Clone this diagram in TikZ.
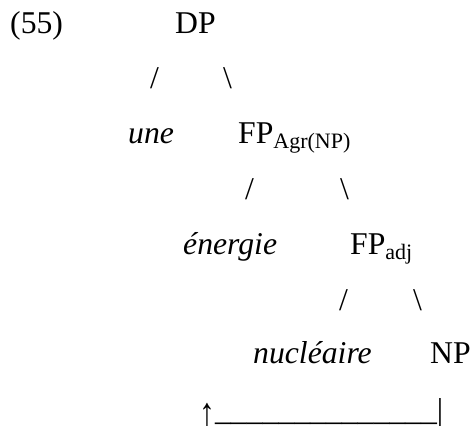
\documentclass[tikz,border=0pt]{standalone}
\usepackage{fontspec}
\setmainfont{Liberation Serif}
\newcommand{\sbs}[1]{\raisebox{-5pt}{\fontsize{22}{26}\selectfont #1}}
\begin{document}
\begin{tikzpicture}[x=1pt,y=-1pt,
  lbl/.style={anchor=base west,inner sep=0pt,font=\fontsize{31.7}{38}\selectfont},
  wrd/.style={lbl,font=\fontsize{31.7}{38}\selectfont\itshape}]
  \useasboundingbox (0,0) rectangle (472,426);
  % example number and root
  \node[lbl] (ex) at (10,33) {(55)};
  \node[lbl] (dp) at (175,33) {DP};
  \node[lbl] (dpL) at (150,88) {/};
  \node[lbl] (dpR) at (223,88) {\textbackslash};
  % first level
  \node[wrd] (une) at (128,143) {une};
  \node[lbl] (fpagr) at (238,143) {FP\sbs{Agr(NP)}};
  \node[lbl] (agrL) at (245,199) {/};
  \node[lbl] (agrR) at (340,199) {\textbackslash};
  % second level
  \node[wrd] (energie) at (183,254) {énergie};
  \node[lbl] (fpadj) at (350,254) {FP\sbs{adj}};
  \node[lbl] (adjL) at (339,310) {/};
  \node[lbl] (adjR) at (413,310) {\textbackslash};
  % third level
  \node[wrd] (nucl) at (253,363) {nucléaire};
  \node[lbl] (np) at (430,363) {NP};
  % movement line
  \node[lbl] (mv) at (199,420) {\raisebox{-6pt}{\scalebox{1}[1.3]{↑}}\_\_\_\_\_\_\_\_\_\_\_\_\_\_|};
\end{tikzpicture}
\end{document}
